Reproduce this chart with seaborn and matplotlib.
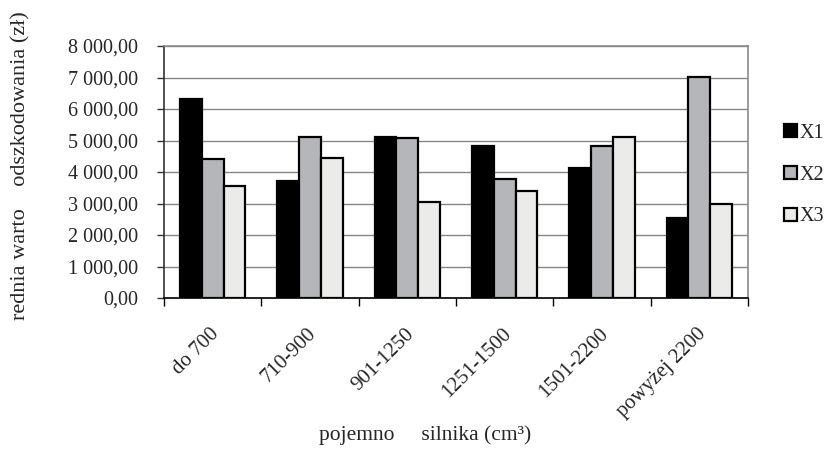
import matplotlib
matplotlib.use("Agg")
import matplotlib.pyplot as plt
from matplotlib.patches import Patch
from matplotlib.ticker import FuncFormatter, MultipleLocator, FixedLocator
from matplotlib.transforms import ScaledTranslation
import numpy as np
import pandas as pd
import seaborn as sns

# Average claim value by engine capacity, three series
categories = ["do 700", "710-900", "901-1250", "1251-1500", "1501-2200", "powyżej 2200"]
x1 = [6320, 3710, 5100, 4820, 4140, 2540]
x2 = [4420, 5110, 5090, 3790, 4810, 7020]
x3 = [3550, 4430, 3050, 3400, 5120, 2970]
series_names = ["X1", "X2", "X3"]
y_label = "rednia warto    odszkodowania (zł)"
x_label = "pojemno     silnika (cm³)"

df = pd.DataFrame({
    "kategoria": categories * 3,
    "seria": [s for s in series_names for _ in categories],
    "wartosc": x1 + x2 + x3,
})

colors = ["#000000", "#b5b6b9", "#ebecea"]

sns.set_theme(style="white")
plt.rcParams["font.family"] = ["Liberation Serif", "DejaVu Serif"]
FS = 14.5

W, H = 825, 449
fig = plt.figure(figsize=(W / 100, H / 100), dpi=100)
L, R, T, B = 164, 748, 46, 298
ax = fig.add_axes([L / W, 1 - B / H, (R - L) / W, (B - T) / H])

sns.barplot(data=df, x="kategoria", y="wartosc", hue="seria", order=categories,
            hue_order=series_names, palette=colors, width=0.67, gap=0,
            edgecolor="black", linewidth=1.6, saturation=1, ax=ax, legend=False)

ax.set_ylim(0, 8000)
ax.set_xlim(-0.5, len(categories) - 0.5)
ax.yaxis.set_major_locator(MultipleLocator(1000))
ax.yaxis.set_major_formatter(FuncFormatter(
    lambda v, p: f"{v:,.2f}".replace(",", " ").replace(".", ",")))
ax.grid(axis="y", color="#858585", linewidth=1.0)
ax.grid(axis="x", visible=False)
ax.set_axisbelow(True)

for side in ["top", "right"]:
    ax.spines[side].set_color("#8a8a8a")
    ax.spines[side].set_linewidth(1.2)
ax.spines["left"].set_color("#333333")
ax.spines["left"].set_linewidth(1.2)
ax.spines["bottom"].set_color("#000000")
ax.spines["bottom"].set_linewidth(1.2)

ax.tick_params(axis="y", which="major", direction="out", length=5, width=1,
               color="#333333", left=True, pad=13.5, labelsize=FS)
# category boundaries carry the tick marks, centers carry the labels
ax.xaxis.set_minor_locator(FixedLocator(np.arange(-0.5, len(categories), 1.0)))
ax.tick_params(axis="x", which="minor", direction="out", length=6, width=1,
               color="#000000", bottom=True)
ax.tick_params(axis="x", which="major", length=0, pad=19, labelsize=15)
ax.set_xticks(range(len(categories)))
ax.set_xticklabels(categories, rotation=45, ha="right", rotation_mode="anchor")
shift = ScaledTranslation(-3 / 100, 0, fig.dpi_scale_trans)
for lab in ax.get_xticklabels():
    lab.set_transform(lab.get_transform() + shift)

ax.set_xlabel("")
ax.set_ylabel("")
fig.text(21 / W, 1 - 166 / H, y_label, rotation=90, ha="center", va="center",
         fontsize=16)
fig.text(425 / W, 1 - 435 / H, x_label, ha="center", va="center", fontsize=15.5)

handles = [Patch(facecolor=c, edgecolor="black", linewidth=1.6) for c in colors]
fig.legend(handles, series_names, loc="upper left",
           bbox_to_anchor=(776 / W, 1 - 116 / H), frameon=False, fontsize=FS,
           handlelength=0.62, handleheight=0.62, handletextpad=0.15,
           labelspacing=1.12, borderaxespad=0)

fig.savefig("out.png", dpi=100)
